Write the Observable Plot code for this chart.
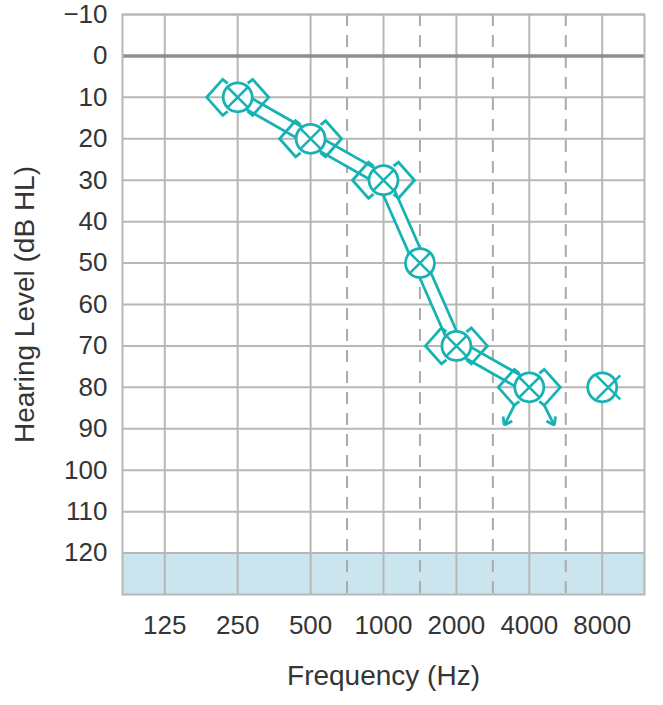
<!DOCTYPE html>
<html>
<head>
<meta charset="utf-8">
<script src="https://cdn.jsdelivr.net/npm/d3@7"></script>
<script src="https://cdn.jsdelivr.net/npm/@observablehq/plot@0.6"></script>
<style>
  html, body { margin: 0; padding: 0; background: #fff; }
  #chart svg { display: block; }
</style>
</head>
<body>
<div id="chart"></div>
<script>
// Audiogram axes
const octaveFreqs = [125, 250, 500, 1000, 2000, 4000, 8000];
const octaveLabels = ["125", "250", "500", "1000", "2000", "4000", "8000"];
const interOctaveFreqs = [750, 1500, 3000, 6000];
const levelTicks = [-10, 0, 10, 20, 30, 40, 50, 60, 70, 80, 90, 100, 110, 120];
const levelDomain = [-10, 130];
const floorBand = [{from: 120, to: 130}];

// Air-conduction thresholds (dB HL)
const airFreqs = [250, 500, 1000, 1500, 2000, 4000, 8000];
const airLevels = [10, 20, 30, 50, 70, 80, 80];
const airConnected = [true, true, true, true, true, true, false];

// Bone-conduction thresholds (dB HL)
const boneFreqs = [250, 500, 1000, 2000, 4000];
const boneLevels = [10, 20, 30, 70, 80];
const boneNoResponse = [false, false, false, false, true];

const teal = "#16b2b4";
const gridColor = "#b7b7b7";
const textColor = "#353535";
const font = "'Liberation Sans', Arial, Helvetica, sans-serif";

// Octaves sit on whole positions; inter-octave frequencies sit halfway between.
function freqPos(f) {
  const i = octaveFreqs.indexOf(f);
  return i >= 0 ? i : octaveFreqs.indexOf(f / 1.5) + 0.5;
}

const air = airFreqs.map((f, i) => ({pos: freqPos(f), level: airLevels[i], connected: airConnected[i]}));
const bone = boneFreqs.map((f, i) => ({pos: freqPos(f), level: boneLevels[i], nr: boneNoResponse[i]}));

// Custom glyphs (drawn in pixels around the threshold point)
const crossGlyph = {
  draw(ctx, size) {
    const a = Math.sqrt(size / Math.PI) * Math.SQRT1_2;
    ctx.moveTo(-a, -a); ctx.lineTo(a, a);
    ctx.moveTo(-a, a); ctx.lineTo(a, -a);
  }
};
function bracketGlyph(side) {
  return {
    draw(ctx) {
      const s = side;
      ctx.moveTo(s * 10, -14);
      ctx.lineTo(s * 15, -18);
      ctx.lineTo(s * 31, 0);
      ctx.lineTo(s * 15, 18);
      ctx.lineTo(s * 10, 14);
    }
  };
}
function arrowGlyph(side) {
  return {
    draw(ctx) {
      const s = side;
      const x0 = s * 15, y0 = 18, x1 = s * 25, y1 = 38;
      ctx.moveTo(x0, y0); ctx.lineTo(x1, y1);
      const ang = Math.atan2(y0 - y1, x0 - x1);
      const len = 9;
      for (const d of [-0.6, 0.6]) {
        ctx.moveTo(x1, y1);
        ctx.lineTo(x1 + len * Math.cos(ang + d), y1 + len * Math.sin(ang + d));
      }
    }
  };
}

const pad = 0.58;
const octavePositions = octaveFreqs.map(freqPos);
const interPositions = interOctaveFreqs.map(freqPos);

const chart = Plot.plot({
  width: 663,
  height: 705,
  marginTop: 14,
  marginBottom: 111,
  marginLeft: 122,
  marginRight: 19,
  style: {fontFamily: font, fontSize: "26px", color: textColor, background: "#fff"},
  x: {domain: [-pad, octaveFreqs.length - 1 + pad]},
  y: {domain: levelDomain, reverse: true},
  marks: [
    Plot.rect(floorBand, {y1: "from", y2: "to", fill: "#cae5ed"}),
    Plot.ruleY(levelTicks, {stroke: gridColor, strokeWidth: 2}),
    Plot.ruleX(octavePositions, {stroke: gridColor, strokeWidth: 2}),
    Plot.ruleX(interPositions, {stroke: "#aaaaaa", strokeWidth: 2, strokeDasharray: "12,9"}),
    Plot.ruleY([0], {stroke: "#8e8e8e", strokeWidth: 3.5}),
    Plot.frame({stroke: gridColor, strokeWidth: 2}),

    // double line joining the air-conduction thresholds
    Plot.line(air.filter(d => d.connected), {x: "pos", y: "level", stroke: teal, strokeWidth: 15, strokeLinejoin: "round"}),
    Plot.line(air.filter(d => d.connected), {x: "pos", y: "level", stroke: "#fff", strokeWidth: 9.5, strokeLinejoin: "round"}),

    // bone conduction brackets
    Plot.dot(bone, {x: "pos", y: "level", symbol: bracketGlyph(-1), r: 10, fill: "none", stroke: teal, strokeWidth: 2.8}),
    Plot.dot(bone, {x: "pos", y: "level", symbol: bracketGlyph(1), r: 10, fill: "none", stroke: teal, strokeWidth: 2.8}),
    Plot.dot(bone.filter(d => d.nr), {x: "pos", y: "level", symbol: arrowGlyph(-1), r: 10, fill: "none", stroke: teal, strokeWidth: 2.8}),
    Plot.dot(bone.filter(d => d.nr), {x: "pos", y: "level", symbol: arrowGlyph(1), r: 10, fill: "none", stroke: teal, strokeWidth: 2.8}),

    // air conduction: circle (right ear) and cross (left ear)
    Plot.dot(air, {x: "pos", y: "level", symbol: "circle", r: 14.5, fill: "#fff", stroke: teal, strokeWidth: 2.8}),
    Plot.dot(air.filter(d => d.connected), {x: "pos", y: "level", symbol: crossGlyph, r: 15, fill: "none", stroke: teal, strokeWidth: 2.5}),
    Plot.dot(air.filter(d => !d.connected), {x: "pos", y: "level", symbol: crossGlyph, r: 17, dx: 6, fill: "none", stroke: teal, strokeWidth: 2.5}),

    Plot.axisY(levelTicks, {tickSize: 0, tickPadding: 15, label: null, fontSize: 26, fill: textColor}),
    Plot.axisX(octavePositions, {tickSize: 0, tickPadding: 21, label: null, fontSize: 26, fill: textColor,
      tickFormat: (p) => octaveLabels[p]}),
    Plot.text(["Frequency (Hz)"], {frameAnchor: "bottom", dy: 90, fontSize: 28, fill: textColor}),
    Plot.text(["Hearing Level (dB HL)"], {y: d3.mean(levelDomain), frameAnchor: "left", dx: -97,
      rotate: -90, textAnchor: "middle", fontSize: 28, fill: textColor})
  ]
});

document.getElementById("chart").append(chart);
</script>
</body>
</html>
